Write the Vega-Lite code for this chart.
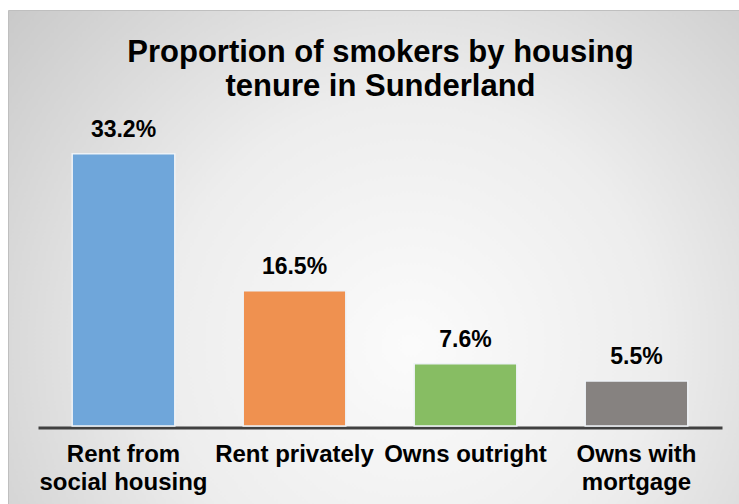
{
  "$schema": "https://vega.github.io/schema/vega-lite/v6.json",
  "width": 731,
  "height": 494,
  "autosize": {"type": "none"},
  "padding": {"left": 8, "top": 10, "right": 0, "bottom": 0},
  "background": "white",
  "view": {
    "stroke": "#bfbfbf",
    "strokeWidth": 1,
    "fill": {
      "gradient": "radial",
      "x1": 0.55, "y1": 0.62, "r1": 0,
      "x2": 0.55, "y2": 0.62, "r2": 0.75,
      "stops": [
        {"offset": 0, "color": "#fbfbfb"},
        {"offset": 0.45, "color": "#ededed"},
        {"offset": 1, "color": "#c6c6c6"}
      ]
    }
  },
  "title": {
    "text": ["Proportion of smokers by housing", "tenure in Sunderland"],
    "font": "Liberation Sans",
    "fontSize": 31,
    "fontWeight": "bold",
    "color": "#000000",
    "lineHeight": 34,
    "offset": -93,
    "dx": 7
  },
  "data": {
    "values": [
      {"tenure": "Rent from social housing", "share": 0.332},
      {"tenure": "Rent privately", "share": 0.165},
      {"tenure": "Owns outright", "share": 0.076},
      {"tenure": "Owns with mortgage", "share": 0.055}
    ]
  },
  "encoding": {
    "x": {
      "field": "tenure",
      "type": "nominal",
      "sort": null,
      "scale": {"range": [30, 714], "paddingInner": 0.4, "paddingOuter": 0.2},
      "axis": {
        "title": null,
        "orient": "bottom",
        "offset": -76.5,
        "domainColor": "#404040",
        "domainWidth": 3,
        "ticks": false,
        "tickSize": 0,
        "labelPadding": 15,
        "labelAngle": 0,
        "labelFont": "Liberation Sans",
        "labelFontSize": 24,
        "labelFontWeight": "bold",
        "labelColor": "#000000",
        "labelBaseline": "top",
        "labelLineHeight": 28,
        "labelExpr": "datum.label == 'Rent from social housing' ? ['Rent from', 'social housing'] : datum.label == 'Owns with mortgage' ? ['Owns with', 'mortgage'] : datum.label"
      }
    }
  },
  "layer": [
    {
      "mark": {"type": "bar", "stroke": "#eef2f6", "strokeWidth": 1.5},
      "encoding": {
        "y": {
          "field": "share",
          "type": "quantitative",
          "scale": {"domain": [0, 0.4], "range": [416, 88]},
          "axis": null
        },
        "color": {
          "field": "tenure",
          "type": "nominal",
          "sort": null,
          "scale": {"range": ["#6fa6da", "#ef9150", "#87bd63", "#868280"]},
          "legend": null
        }
      }
    },
    {
      "mark": {
        "type": "text",
        "dy": -17,
        "baseline": "alphabetic",
        "font": "Liberation Sans",
        "fontSize": 23,
        "fontWeight": "bold",
        "color": "#000000"
      },
      "encoding": {
        "y": {"field": "share", "type": "quantitative"},
        "text": {"field": "share", "type": "quantitative", "format": ".1%"}
      }
    }
  ]
}
